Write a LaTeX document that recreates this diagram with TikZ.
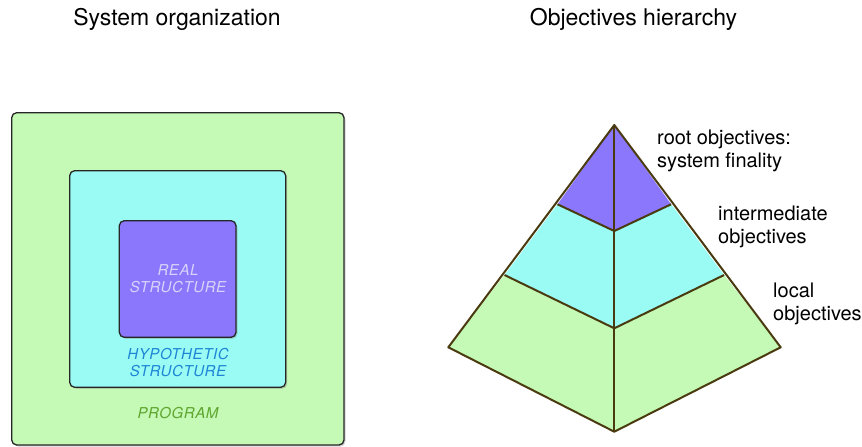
\documentclass[tikz,border=0pt]{standalone}
\usepackage{fontspec}
\setmainfont{TeX Gyre Heros}
\usetikzlibrary{shadows}
\definecolor{cgreen}{HTML}{C5F9B6}
\definecolor{ccyan}{HTML}{99FBF3}
\definecolor{cpurple}{HTML}{8A77FC}
\definecolor{tpurple}{HTML}{D9D2F9}
\definecolor{tblue}{HTML}{1E85D6}
\definecolor{tgreen}{HTML}{5EA62E}
\definecolor{edgebrown}{HTML}{4A3A10}
\newfontfamily\boxfont[LetterSpace=4]{TeX Gyre Heros}
\tikzset{
  box/.style={draw=black!85, line width=1.3pt, rounded corners=5pt,
    drop shadow={shadow xshift=1.5pt, shadow yshift=-1.5pt, opacity=0.35}},
  boxtext/.style={font=\fontsize{15}{17.5}\selectfont\boxfont\itshape, align=center, inner sep=0pt},
  title/.style={font=\fontsize{23}{27}\selectfont, inner sep=0pt},
  lab/.style={font=\fontsize{20}{23}\selectfont, align=left, anchor=west, inner sep=0pt},
  layer/.style={draw=edgebrown, line width=2pt, line join=round}
}
\begin{document}
\begin{tikzpicture}[x=1pt,y=-1pt]
\useasboundingbox (0,0) rectangle (862,447);
% titles
\node[title] (t1) at (177,19) {System organization};
\node[title] (t2) at (633.5,19) {Objectives hierarchy};
% nested boxes
\draw[box, fill=cgreen] (11.7,112.7) rectangle (344,445);
\draw[box, fill=ccyan] (69.7,170.7) rectangle (285.7,387.3);
\draw[box, fill=cpurple] (119.3,220.7) rectangle (236,337.3);
\node[boxtext, text=tpurple] (real) at (178,278.5) {REAL\\STRUCTURE};
\node[boxtext, text=tblue] (hyp) at (178,362.5) {HYPOTHETIC\\STRUCTURE};
\node[boxtext, text=tgreen] (prog) at (178,412.7) {PROGRAM};
% pyramid
\coordinate (apex) at (614.3,125);
\coordinate (L) at (448.3,347.3);
\coordinate (R) at (780.7,347.3);
\coordinate (B) at (614.3,431.7);
\coordinate (l1) at (557.5,204.3);
\coordinate (r1) at (671.1,204.3);
\coordinate (c1) at (614.3,231);
\coordinate (l2) at (504.5,275);
\coordinate (r2) at (724.1,275);
\coordinate (c2) at (614.3,328.3);
\fill[cgreen] (l2) -- (c2) -- (r2) -- (R) -- (B) -- (L) -- cycle;
\fill[ccyan] (l1) -- (c1) -- (r1) -- (r2) -- (c2) -- (l2) -- cycle;
\fill[cpurple] (apex) -- (r1) -- (c1) -- (l1) -- cycle;
\draw[layer] (l1) -- (c1) -- (r1);
\draw[layer] (l2) -- (c2) -- (r2);
\draw[layer] (apex) -- (B);
\draw[layer] (apex) -- (R) -- (B) -- (L) -- cycle;
% labels
\node[lab] (root) at (657,151) {root objectives:\\system finality};
\node[lab] (inter) at (718,227) {intermediate\\objectives};
\node[lab] (local) at (773,303.5) {local\\objectives};
\end{tikzpicture}
\end{document}
